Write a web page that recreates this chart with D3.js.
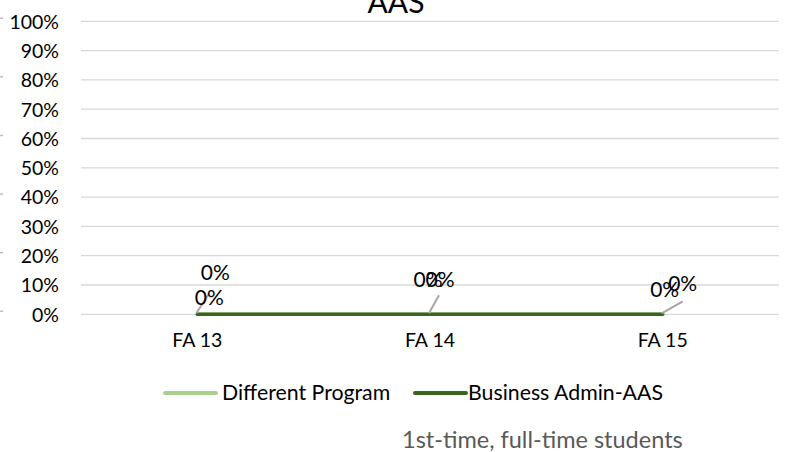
<!DOCTYPE html>
<html><head><meta charset="utf-8">
<script src="https://cdn.jsdelivr.net/npm/d3@7"></script>
<style>
html,body{margin:0;padding:0;background:#fff;}
svg text{font-family:Lato,"Open Sans",sans-serif;}
</style></head>
<body>
<svg id="chart" width="786" height="452"></svg>
<script>
// ---- data ----
const categories = ["FA 13", "FA 14", "FA 15"];
const differentProgram = [0, 0, 0];
const businessAdmin = [0, 0, 0];
const yTickValues = [0, 0.1, 0.2, 0.3, 0.4, 0.5, 0.6, 0.7, 0.8, 0.9, 1.0];
const seriesNames = ["Different Program", "Business Admin-AAS"];
const titleText = "AAS";
const footnote = "1st-time, full-time students";

// label placement offsets (pixels relative to point), style only
const dpLabelOffsets = [[18, -42], [10, -35], [20, -31]];
const baLabelOffsets = [[12, -17], [-2, -35], [2, -25]];

const svg = d3.select("#chart");
const W = 786, H = 452;
const margin = {left: 81, right: 7, top: 21.3, bottom: 452 - 314.3};

const x = d3.scaleBand().domain(categories).range([margin.left, W - margin.right]);
const y = d3.scaleLinear().domain([0, 1]).range([H - margin.bottom, margin.top]);
const cx = c => x(c) + x.bandwidth() / 2;

// gridlines
svg.append("g").selectAll("line").data(yTickValues).join("line")
  .attr("x1", margin.left).attr("x2", W - margin.right)
  .attr("y1", d => y(d)).attr("y2", d => y(d))
  .attr("stroke", "#d9d9d9").attr("stroke-width", 1.3);

// y axis labels
const yAxis = d3.axisLeft(y).tickValues(yTickValues).tickFormat(d3.format(".0%")).tickSize(0).tickPadding(0);
const yg = svg.append("g").attr("transform", `translate(59,0)`).call(yAxis);
yg.select(".domain").remove();
yg.selectAll("text").attr("font-size", 19.5).attr("fill", "#000").attr("font-family", "Lato").attr("dy", "0.35em");

// small stray marks at left edge
svg.append("g").selectAll("line").data([1, 0.8, 0.6, 0.4, 0.2, 0]).join("line")
  .attr("x1", 0).attr("x2", 3).attr("y1", d => y(d) - 3).attr("y2", d => y(d) - 3)
  .attr("stroke", "#bfbfbf").attr("stroke-width", 1.5);

// x axis labels
const xAxis = d3.axisBottom(x).tickSize(0).tickPadding(0);
const xg = svg.append("g").attr("transform", `translate(0,${y(0) + 19})`).call(xAxis);
xg.select(".domain").remove();
xg.selectAll("text").attr("font-size", 19.5).attr("fill", "#000").attr("font-family", "Lato").attr("dy", "0.71em");

// lines
const lineGen = d3.line().x((d, i) => cx(categories[i])).y(d => y(d));
svg.append("path").datum(differentProgram).attr("d", lineGen)
  .attr("fill", "none").attr("stroke", "#a9d18e").attr("stroke-width", 3.5).attr("stroke-linecap", "round");
svg.append("path").datum(businessAdmin).attr("d", lineGen)
  .attr("fill", "none").attr("stroke", "#3b6420").attr("stroke-width", 3.5).attr("stroke-linecap", "round");

// leader lines for labels
const leaderEnds = [[12, -21], [9, -19], [20, -13]];
svg.append("g").selectAll("line").data(businessAdmin).join("line")
  .attr("x1", (d, i) => cx(categories[i]) - 1).attr("y1", d => y(d) - 1)
  .attr("x2", (d, i) => cx(categories[i]) + leaderEnds[i][0]).attr("y2", (d, i) => y(d) + leaderEnds[i][1])
  .attr("stroke", "#a6a6a6").attr("stroke-width", 2);

// data labels
const fmt = d3.format(".0%");
function labels(values, offs) {
  svg.append("g").selectAll("text").data(values).join("text")
    .attr("x", (d, i) => cx(categories[i]) + offs[i][0])
    .attr("y", (d, i) => y(d) + offs[i][1])
    .attr("text-anchor", "middle").attr("dy", "0.35em")
    .attr("font-size", 21).attr("fill", "#000")
    .text(d => fmt(d));
}
labels(differentProgram, dpLabelOffsets);
labels(businessAdmin, baLabelOffsets);

// title
svg.append("text").attr("x", 396).attr("y", 13).attr("text-anchor", "middle")
  .attr("font-size", 30).attr("fill", "#000").text(titleText);

// legend
const legendColors = ["#a9d18e", "#3b6420"];
const legendX = [165, 415];
const lg = svg.append("g").selectAll("g").data(seriesNames).join("g")
  .attr("transform", (d, i) => `translate(${legendX[i]},393)`);
lg.append("line").attr("x1", 0).attr("x2", 51).attr("y1", 0).attr("y2", 0)
  .attr("stroke", (d, i) => legendColors[i]).attr("stroke-width", 4).attr("stroke-linecap", "round");
lg.append("text").attr("x", (d, i) => i === 0 ? 57 : 53).attr("y", 0).attr("dy", "0.35em")
  .attr("font-size", 21.3).attr("fill", "#000").text(d => d);

// footnote
svg.append("text").attr("x", 402).attr("y", 440).attr("dy", "0.35em")
  .attr("font-size", 23.5).attr("fill", "#595959").text(footnote);
</script>
</body></html>
